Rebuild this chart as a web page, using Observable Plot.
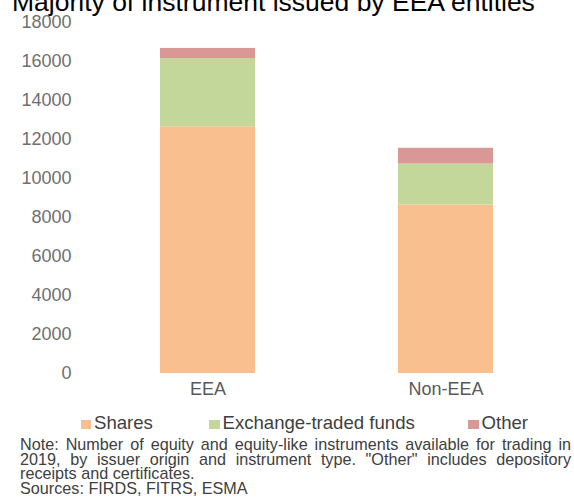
<!DOCTYPE html>
<html>
<head>
<meta charset="utf-8">
<script src="https://cdn.jsdelivr.net/npm/d3@7"></script>
<script src="https://cdn.jsdelivr.net/npm/@observablehq/plot@0.6"></script>
<style>
  html, body { margin: 0; padding: 0; background: #fff; overflow: hidden; }
  #wrap { position: relative; width: 574px; height: 504px; font-family: "Liberation Sans", Arial, sans-serif; }
  #title { position: absolute; left: 12px; top: -8px; font-size: 26.5px; line-height: 20px; color: #000; white-space: nowrap; }
  #chart { position: absolute; left: 0; top: 0; }
  #legend { position: absolute; top: 414px; left: 0; width: 574px; height: 19px; font-size: 18.6px; color: #404040; }
  .item { position: absolute; top: 0; line-height: 18.6px; white-space: nowrap; }
  .sw { display: inline-block; width: 10.5px; height: 9px; margin-right: 3px; vertical-align: baseline; }
  #note { position: absolute; top: 437px; left: 20px; width: 551px; font-size: 16.2px; line-height: 14.5px; color: #404040; text-align: justify; }
</style>
</head>
<body>
<div id="wrap">
  <div id="title">Majority of instrument issued by EEA entities</div>
  <div id="chart"></div>
  <div id="legend"></div>
  <div id="note">Note: Number of equity and equity-like instruments available for trading in 2019, by issuer origin and instrument type. "Other" includes depository receipts and certificates.<br>Sources: FIRDS, FITRS, ESMA</div>
</div>
<script>
const categories = ["EEA", "Non-EEA"];
const seriesNames = ["Shares", "Exchange-traded funds", "Other"];
const shares = [12650, 8640];
const etfs = [3500, 2100];
const other = [520, 810];
const seriesColors = ["#F9BF8F", "#C4D79B", "#D99795"];
const yTicks = [0, 2000, 4000, 6000, 8000, 10000, 12000, 14000, 16000, 18000];

const seriesValues = [shares, etfs, other];
const data = [];
seriesNames.forEach((s, si) => {
  categories.forEach((c, ci) => data.push({category: c, series: s, value: seriesValues[si][ci]}));
});

const chart = Plot.plot({
  width: 574,
  height: 400,
  marginTop: 22,
  marginBottom: 27,
  marginLeft: 90,
  marginRight: 10,
  style: {fontFamily: "'Liberation Sans', Arial, sans-serif", fontSize: "18px", color: "#6f6f6f", background: "transparent"},
  x: {domain: categories, paddingInner: 0.6, paddingOuter: 0.2935, label: null, tickSize: 0, tickPadding: 9},
  y: {domain: [0, 18000], ticks: yTicks, tickFormat: d => String(d), label: null, tickSize: 0, tickPadding: 19},
  color: {domain: seriesNames, range: seriesColors},
  marks: [
    Plot.barY(data, Plot.stackY({x: "category", y: "value", fill: "series", order: seriesNames}))
  ]
});
chart.querySelectorAll('[aria-label="x-axis tick label"] text').forEach(t => t.setAttribute("fill", "#595959"));
document.getElementById("chart").appendChild(chart);

const legendPos = [80.5, 209, 468];
const legend = document.getElementById("legend");
seriesNames.forEach((s, i) => {
  const item = document.createElement("div");
  item.className = "item";
  item.style.left = legendPos[i] + "px";
  const sw = document.createElement("span");
  sw.className = "sw";
  sw.style.background = seriesColors[i];
  item.appendChild(sw);
  item.appendChild(document.createTextNode(s));
  legend.appendChild(item);
});
</script>
</body>
</html>
